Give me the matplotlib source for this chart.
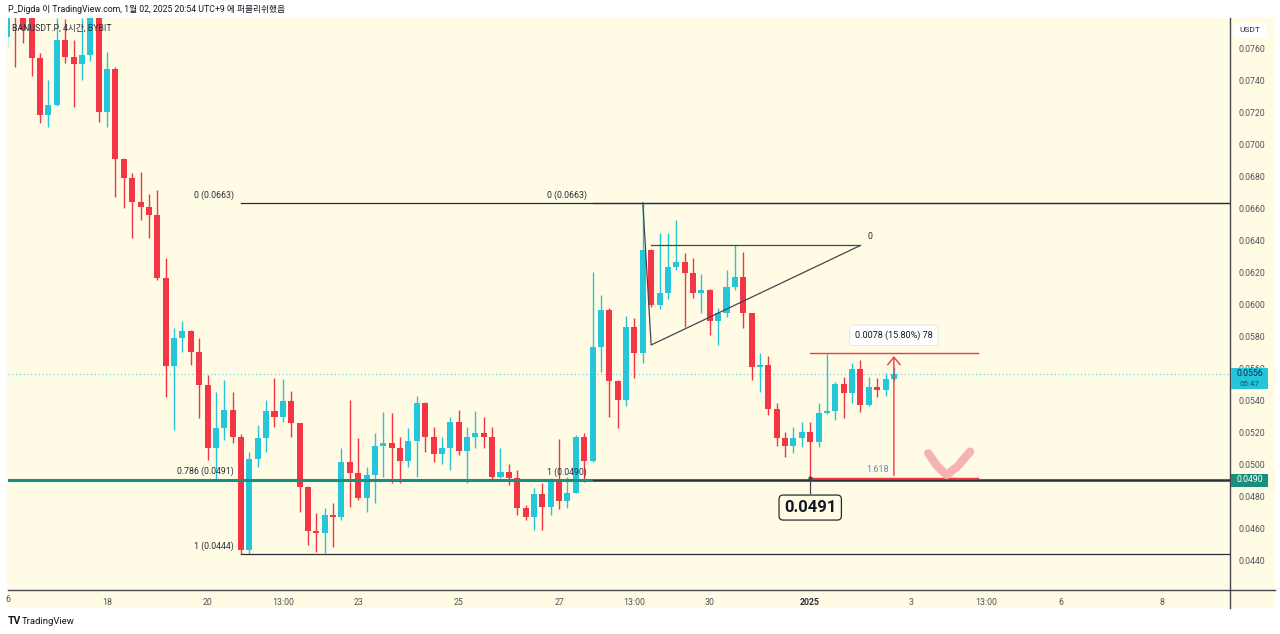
import numpy as np
import pandas as pd
import matplotlib
matplotlib.use('Agg')
import matplotlib.pyplot as plt
from matplotlib.patches import Rectangle, FancyBboxPatch
from matplotlib.lines import Line2D

plt.rcParams['font.family'] = ['Roboto', 'Noto Sans CJK KR', 'DejaVu Sans']

# ---------------- data (4h candles, BANUSDT.P) ----------------
opens = [0.07669, 0.0785, 0.0780, 0.0782, 0.07536, 0.07181, 0.07244, 0.0765, 0.07546, 0.0750,
         0.07556, 0.0788, 0.07202, 0.07467, 0.06904, 0.06786, 0.06639, 0.06604, 0.06556, 0.06161,
         0.05613, 0.05786, 0.05833, 0.05702, 0.05494, 0.05098, 0.05223, 0.05338, 0.05167, 0.0446,
         0.05029, 0.05161, 0.05333, 0.05292, 0.05396, 0.05254, 0.04858, 0.04583, 0.04571, 0.04681,
         0.04667, 0.05014, 0.04942, 0.04786, 0.04931, 0.05113, 0.05129, 0.05102, 0.05021, 0.05146,
         0.05383, 0.05171, 0.05063, 0.05102, 0.05264, 0.05083, 0.05171, 0.05192, 0.05171, 0.04921,
         0.04952, 0.04911, 0.04723, 0.04671, 0.04813, 0.04729, 0.04896, 0.04771, 0.04821, 0.05171,
         0.05021, 0.05729, 0.05963, 0.05521, 0.0540, 0.05854, 0.05692, 0.06338, 0.05994, 0.06071,
         0.06233, 0.06264, 0.06196, 0.06071, 0.06088, 0.05894, 0.05942, 0.06108, 0.06171, 0.05942,
         0.05604, 0.05619, 0.05342, 0.05161, 0.05113, 0.05161, 0.05202, 0.05139, 0.05321, 0.05329,
         0.0550, 0.05442, 0.05592, 0.05369, 0.05483, 0.05463, 0.05529]
highs = [0.0790, 0.0790, 0.0782, 0.0785, 0.07567, 0.0740, 0.0779, 0.0778, 0.0765, 0.0779,
         0.0795, 0.0792, 0.07577, 0.07483, 0.0691, 0.06817, 0.06827, 0.06686, 0.06713, 0.06286,
         0.05848, 0.05896, 0.0584, 0.05786, 0.05556, 0.05452, 0.05525, 0.05452, 0.05188, 0.05077,
         0.05244, 0.0540, 0.05536, 0.05529, 0.05458, 0.05258, 0.04862, 0.04692, 0.04723, 0.04754,
         0.05098, 0.0540, 0.05161, 0.04983, 0.05192, 0.05327, 0.05317, 0.05171, 0.05223, 0.05425,
         0.0539, 0.0523, 0.05167, 0.05296, 0.05338, 0.05233, 0.05333, 0.05296, 0.0523, 0.05098,
         0.0500, 0.04963, 0.04744, 0.04848, 0.04879, 0.04911, 0.05154, 0.04921, 0.05181, 0.05192,
         0.06202, 0.06056, 0.05975, 0.05525, 0.05925, 0.05911, 0.06633, 0.06345, 0.06446, 0.06446,
         0.06525, 0.06317, 0.06286, 0.06188, 0.06095, 0.05973, 0.06213, 0.06369, 0.06327, 0.05945,
         0.05692, 0.05675, 0.05379, 0.05202, 0.05233, 0.05264, 0.05264, 0.05383, 0.05688, 0.05514,
         0.05546, 0.0563, 0.0565, 0.05546, 0.05536, 0.05567, 0.05608]
lows = [0.0760, 0.07481, 0.07631, 0.07425, 0.07129, 0.07108, 0.0724, 0.07504, 0.07233, 0.0740,
        0.0752, 0.07139, 0.07108, 0.06671, 0.06598, 0.06411, 0.06525, 0.06414, 0.0615, 0.05421,
        0.05213, 0.05702, 0.05619, 0.05286, 0.05025, 0.0490, 0.0515, 0.05129, 0.0444, 0.0444,
        0.04983, 0.05077, 0.05233, 0.05264, 0.05171, 0.04702, 0.04494, 0.04452, 0.04442, 0.04483,
        0.0465, 0.04733, 0.04775, 0.04702, 0.04754, 0.04921, 0.04879, 0.04879, 0.04983, 0.04921,
        0.05077, 0.05014, 0.0500, 0.04963, 0.05056, 0.04879, 0.05098, 0.05098, 0.04904, 0.04911,
        0.04869, 0.04681, 0.0465, 0.04588, 0.04588, 0.04681, 0.04717, 0.04723, 0.04817, 0.04889,
        0.0501, 0.05577, 0.05296, 0.05223, 0.05363, 0.05536, 0.05629, 0.0598, 0.05967, 0.06029,
        0.06213, 0.05858, 0.06036, 0.05942, 0.05806, 0.05744, 0.05921, 0.06088, 0.05848, 0.05525,
        0.05452, 0.05306, 0.05113, 0.05046, 0.05071, 0.05108, 0.0491, 0.05108, 0.0531, 0.05275,
        0.05286, 0.05379, 0.05327, 0.05365, 0.05421, 0.05425, 0.0552]
closes = [0.0785, 0.0780, 0.07713, 0.07536, 0.07181, 0.07244, 0.0765, 0.07546, 0.0750, 0.07556,
          0.0788, 0.07202, 0.07467, 0.06904, 0.06786, 0.06639, 0.06604, 0.06556, 0.06161, 0.05613,
          0.05786, 0.05833, 0.05702, 0.05494, 0.05098, 0.05223, 0.05338, 0.05167, 0.0446, 0.05029,
          0.05161, 0.05333, 0.05292, 0.05396, 0.05254, 0.04858, 0.04583, 0.04571, 0.04681, 0.04667,
          0.05014, 0.04942, 0.04786, 0.04931, 0.05113, 0.05129, 0.05102, 0.05021, 0.05146, 0.05383,
          0.05171, 0.05063, 0.05102, 0.05264, 0.05083, 0.05171, 0.05192, 0.05171, 0.04921, 0.04952,
          0.04911, 0.04723, 0.04671, 0.04813, 0.04729, 0.04896, 0.04771, 0.04821, 0.05171, 0.05021,
          0.05729, 0.05963, 0.05521, 0.0540, 0.05854, 0.05692, 0.06338, 0.05994, 0.06071, 0.06233,
          0.06264, 0.06196, 0.06071, 0.06088, 0.05894, 0.05942, 0.06108, 0.06171, 0.05942, 0.05604,
          0.05619, 0.05342, 0.05161, 0.05113, 0.05161, 0.05202, 0.05139, 0.05321, 0.05329, 0.0550,
          0.05442, 0.05592, 0.05369, 0.05483, 0.05463, 0.05529, 0.0556]

first_bar = '2024-12-16 01:00'
tick_times = ['2024-12-18 01:00', '2024-12-20 01:00', '2024-12-21 13:00', '2024-12-23 01:00',
              '2024-12-25 01:00', '2024-12-27 01:00', '2024-12-28 13:00', '2024-12-30 01:00',
              '2025-01-01 01:00', '2025-01-03 01:00', '2025-01-04 13:00', '2025-01-06 01:00',
              '2025-01-08 01:00']
tick_labels = ['18', '20', '13:00', '23', '25', '27', '13:00', '30', '2025', '3', '13:00', '6', '8']
price_ticks = [0.0440, 0.0460, 0.0480, 0.0500, 0.0520, 0.0540, 0.0560, 0.0580, 0.0600,
               0.0620, 0.0640, 0.0660, 0.0680, 0.0700, 0.0720, 0.0740, 0.0760]

# drawings
fib1_start, fib1_levels, fib1_labels = 28, [0.0663, 0.0491, 0.0444], ['0 (0.0663)', '0.786 (0.0491)', '1 (0.0444)']
fib2_start, fib2_levels, fib2_labels = 70, [0.0663, 0.0490], ['0 (0.0663)', '1 (0.0490)']
support_level = 0.0490
last_price = 0.0556
tri_x = [76, 77, 102, 77]
tri_y = [0.06633, 0.05744, 0.06366, 0.06366]
meas_x0, meas_x1, meas_arrow_x = 96, 116, 106
meas_lo, meas_hi = 0.0491, 0.05692
check_x = [110.1, 111.2, 112.3, 113.6, 115.1]
check_y = [0.05067, 0.04985, 0.04931, 0.04985, 0.05077]

RED = '#F23645'
CYAN = '#26C6DA'
TEAL = '#1B8E7C'
CREAM = '#FFFBE5'
DARK = '#131722'
GRAY = '#50535E'

W, H = 1280, 634
def fx(px): return px / W
def fy(py): return 1 - py / H

fig = plt.figure(figsize=(12.8, 6.34), dpi=100, facecolor='white')
fig.patches.append(Rectangle((fx(7), fy(608)), fx(1275) - fx(7), fy(18) - fy(608),
                             transform=fig.transFigure, facecolor=CREAM, edgecolor='none', zorder=-5))
ax = fig.add_axes([fx(8), fy(590), fx(1230) - fx(8), fy(18) - fy(590)])
ax.set_facecolor(CREAM)

o = np.array(opens); h = np.array(highs); l = np.array(lows); c = np.array(closes)
dates = pd.date_range(first_bar, periods=len(o), freq='4h')
x = np.arange(len(o))
cols = np.where(c >= o, CYAN, RED)

ax.vlines(x, l, h, colors=cols, lw=1.0, zorder=3)
body_bot = np.minimum(o, c)
body_h = np.maximum(np.abs(c - o), 0.00005)
ax.bar(x, body_h, bottom=body_bot, width=0.72, color=cols, edgecolor='none', zorder=4)

ax.set_xlim(0.164, 146.15)
ax.set_ylim(0.042125, 0.077875)

# last price dotted line
ax.axhline(last_price, color=CYAN, lw=0.9, ls=(0, (1, 2)), alpha=0.7, zorder=2)

# support thick teal line
ax.axhline(support_level, color=TEAL, lw=2.2, zorder=5)

# fib 1
xr = ax.get_xlim()[1]
for lev, lab in zip(fib1_levels, fib1_labels):
    if not lab.startswith('0.786'):
        ax.plot([fib1_start, xr], [lev, lev], color='#2A2E39', lw=0.9, zorder=5)
    ax.annotate(lab, xy=(fib1_start, lev), xytext=(-5, 2), textcoords='offset points',
                ha='right', va='bottom', fontsize=6.3, color='#2A2E39', zorder=6)
# fib 2
for lev, lab in zip(fib2_levels, fib2_labels):
    ax.plot([fib2_start, xr], [lev, lev], color='#2A2E39', lw=0.9, zorder=5)
    ax.annotate(lab, xy=(fib2_start, lev), xytext=(-4, 2), textcoords='offset points',
                ha='right', va='bottom', fontsize=6.3, color='#2A2E39', zorder=6)

# triangle
ax.plot(tri_x[:3], tri_y[:3], color='#434651', lw=0.9, zorder=6)
ax.plot([tri_x[3], tri_x[2]], [tri_y[3], tri_y[2]], color='#434651', lw=0.9, zorder=6)
ax.annotate('0', xy=(tri_x[2], tri_y[2]), xytext=(5, 3), textcoords='offset points',
            ha='left', va='bottom', fontsize=6.3, color='#2A2E39')

# measurement tool
ax.plot([meas_x0, meas_x1], [meas_hi, meas_hi], color=RED, lw=1.0, zorder=6)
ax.plot([meas_x0 + 0.2, meas_x1], [meas_lo, meas_lo], color=RED, lw=1.0, zorder=6)
ax.annotate('', xy=(meas_arrow_x, meas_hi), xytext=(meas_arrow_x, meas_lo),
            arrowprops=dict(arrowstyle='->,head_length=0.55,head_width=0.45', color=RED, lw=1.0),
            zorder=6)
ax.annotate('0.0078 (15.80%) 78', xy=(meas_arrow_x, meas_hi), xytext=(0, 13), textcoords='offset points',
            ha='center', va='center', fontsize=6.5, color=DARK, zorder=8,
            bbox=dict(boxstyle='round,pad=0.6,rounding_size=0.3', fc='white', ec='#E0E3EB', lw=0.6))
ax.annotate('1.618', xy=(meas_arrow_x, meas_lo), xytext=(-12, 3), textcoords='offset points',
            ha='center', va='bottom', fontsize=6.5, color='#5B8FC9', zorder=8)

# callout 0.0491
ax.plot([meas_x0, meas_x0], [meas_lo, meas_lo - 0.0009], color='#434651', lw=0.9, zorder=7)
ax.plot([meas_x0], [meas_lo], marker='o', ms=2, color='#434651', zorder=7)
ax.annotate('0.0491', xy=(meas_x0, meas_lo), xytext=(0, -21), textcoords='offset points',
            ha='center', va='center', fontsize=12, fontweight='bold', color=DARK, zorder=8,
            bbox=dict(boxstyle='round,pad=0.3,rounding_size=0.25', fc=CREAM, ec='#2A2E39', lw=0.9))

# pink check mark
ax.plot(check_x, check_y, color='#F7AAAE', lw=6, alpha=0.9, solid_capstyle='round',
        solid_joinstyle='round', zorder=7)

# axes styling
for s in ['left', 'top', 'right', 'bottom']:
    ax.spines[s].set_visible(False)
ax.yaxis.tick_right()
ax.set_yticks(price_ticks)
ax.set_yticklabels(['%.4f' % v for v in price_ticks])
ax.tick_params(axis='y', length=0, pad=6, labelsize=6.3, labelcolor=GRAY)

t0 = pd.Timestamp(first_bar)
tick_pos = [(pd.Timestamp(t) - t0) / pd.Timedelta('4h') for t in tick_times]
ax.set_xticks(tick_pos)
ax.set_xticklabels(tick_labels)
ax.tick_params(axis='x', length=0, pad=6, labelsize=6.3, labelcolor=GRAY)
for lbl in ax.get_xticklabels():
    if lbl.get_text() == '2025':
        lbl.set_fontweight('bold')
        lbl.set_color('#2A2E39')

# frame lines
fig.add_artist(Line2D([fx(1230), fx(1230)], [fy(18), fy(608)], transform=fig.transFigure,
                      color='#434651', lw=1.0))
fig.add_artist(Line2D([fx(8), fx(1275)], [fy(590), fy(590)], transform=fig.transFigure,
                      color='#434651', lw=1.0))

# left cut label
fig.text(fx(8), fy(600), '6', ha='center', va='center', fontsize=6.3, color=GRAY)

# price labels on axis (cover the tick labels beneath)
fig.patches.append(FancyBboxPatch((fx(1231), fy(389)), fx(1268) - fx(1231), 21 / H,
                                  boxstyle='square,pad=0', transform=fig.transFigure,
                                  fc=CYAN, ec='none', zorder=5))
fig.text(fx(1249.5), fy(374), '%.4f' % last_price, ha='center', va='center', fontsize=6.3,
         color='#0F2A45', zorder=6)
fig.text(fx(1249.5), fy(384), '05:47', ha='center', va='center', fontsize=5.8,
         color='#1F4A6E', zorder=6)
fig.patches.append(FancyBboxPatch((fx(1231), fy(486.5)), fx(1268) - fx(1231), 13 / H,
                                  boxstyle='square,pad=0', transform=fig.transFigure,
                                  fc=TEAL, ec='none', zorder=5))
fig.text(fx(1249.5), fy(480), '%.4f' % support_level, ha='center', va='center', fontsize=6.3,
         color='white', zorder=6)

# USDT box
fig.patches.append(FancyBboxPatch((fx(1234), fy(38)), fx(1267) - fx(1234), 15 / H,
                                  boxstyle='round,pad=0,rounding_size=0.003', transform=fig.transFigure,
                                  fc='white', ec='none', zorder=5))
fig.text(fx(1250), fy(30.5), 'USDT', ha='center', va='center', fontsize=6.0, color='#2A2E39', zorder=6)

# header texts
fig.text(fx(8), fy(9), 'P_Digda 이 TradingView.com, 1월 02, 2025 20:54 UTC+9 에 퍼블리쉬했음',
         ha='left', va='center', fontsize=6.3, color=DARK)
ax.text(4 / 1222, 1 - 10 / 572, 'BANUSDT.P, 4시간, BYBIT', transform=ax.transAxes,
        ha='left', va='center', fontsize=6.3, color='#2A2E39', zorder=9)

# footer logo
fig.text(fx(8), fy(621), 'TV', ha='left', va='center', fontsize=7.5, fontweight='bold', color=DARK)
fig.text(fx(22), fy(621), 'TradingView', ha='left', va='center', fontsize=6.8, color=DARK)

fig.savefig('out.png', dpi=100, facecolor='white')
